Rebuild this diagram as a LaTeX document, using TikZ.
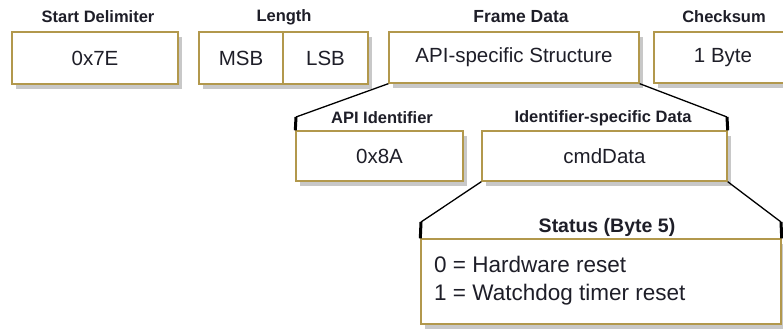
\documentclass[tikz,border=0pt]{standalone}
\usepackage{fontspec}
\setmainfont{Liberation Sans}
\definecolor{boxgold}{RGB}{178,152,76}
\definecolor{txt}{RGB}{30,30,40}
\definecolor{boxshadowcol}{RGB}{200,200,200}
\begin{document}
\begin{tikzpicture}[x=1pt,y=-1pt,
  fieldbox/.style={draw=boxgold, line width=1.4pt, fill=white, inner sep=0pt,
    text=txt, font=\fontsize{20.5}{24}\selectfont},
  fieldlabel/.style={text=txt, inner sep=0pt, font=\bfseries\fontsize{16.5}{19}\selectfont},
  bracket/.style={draw=black, line width=1.3pt},
  tick/.style={draw=black, line width=3pt},
  boxshadow/.style={fill=boxshadowcol, draw=none}]
\clip (0,0) rectangle (783,331);
\fill[white] (0,0) rectangle (783,331);

% shadows beneath the boxes
\fill[boxshadow] (16,37) rectangle (182,89);
\fill[boxshadow] (203,37) rectangle (372,89);
\fill[boxshadow] (393,37) rectangle (643,88);
\fill[boxshadow] (658,37) rectangle (796,88);
\fill[boxshadow] (300,136) rectangle (467,186);
\fill[boxshadow] (486,136) rectangle (731,186);
\fill[boxshadow] (425,244) rectangle (785,329);

% top row
\node[fieldbox, minimum width=166pt, minimum height=52pt] (start) at (95,58) {0x7E};
\node[fieldlabel] (startl) at (98,17) {Start Delimiter};
\node[fieldbox, minimum width=84pt, minimum height=52pt] (msb) at (241,58) {MSB};
\node[fieldbox, minimum width=85pt, minimum height=52pt] (lsb) at (325.5,58) {LSB};
\node[fieldlabel] (lenl) at (284,17) {Length};
\node[fieldbox, minimum width=250pt, minimum height=51pt] (frame) at (514,57.5) {API-specific Structure};
\node[fieldlabel, font=\bfseries\fontsize{17.5}{20}\selectfont] (framel) at (521,17) {Frame Data};
\node[fieldbox, minimum width=138pt, minimum height=51pt] (chk) at (723,57.5) {1 Byte};
\node[fieldlabel] (chkl) at (724,17) {Checksum};

% second row
\node[fieldbox, minimum width=167pt, minimum height=50pt] (api) at (379.5,156) {0x8A};
\node[fieldlabel] (apil) at (382,118) {API Identifier};
\node[fieldbox, minimum width=245pt, minimum height=50pt] (cmd) at (604.5,156) {cmdData};
\node[fieldlabel] (cmdl) at (603,118) {Identifier-specific Data};

\coordinate (apiT) at (296,117);
\coordinate (cmdT) at (727,117);
\draw[bracket] (frame.south west) -- (apiT);
\draw[bracket] (frame.south east) -- (cmdT);
\draw[tick] (apiT) -- (api.north west);
\draw[tick] (cmdT) -- (cmd.north east);

% status box
\node[fieldbox, minimum width=360pt, minimum height=85pt] (status) at (601,281.5) {};
\node[fieldlabel, font=\bfseries\fontsize{19.5}{22}\selectfont] (statl) at (607,227) {Status (Byte 5)};
\node[text=txt, inner sep=0pt, anchor=west, align=left,
  font=\fontsize{22.5}{28}\selectfont] (statt) at (434,281) {0 = Hardware reset\\1 = Watchdog timer reset};

\coordinate (stL) at (421,222);
\coordinate (stR) at (781,222);
\draw[bracket] (cmd.south west) -- (stL);
\draw[bracket] (cmd.south east) -- (stR);
\draw[tick] (stL) -- (status.north west);
\draw[tick] (stR) -- (status.north east);
\end{tikzpicture}
\end{document}
